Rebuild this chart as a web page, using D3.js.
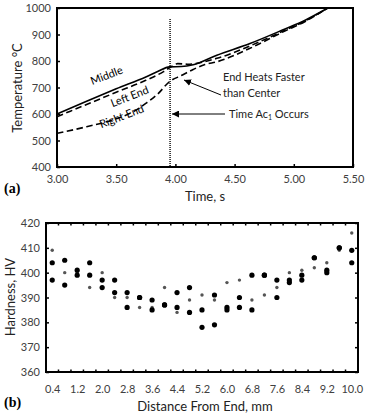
<!DOCTYPE html>
<html><head><meta charset="utf-8">
<script src="https://cdn.jsdelivr.net/npm/d3@7"></script>
<style>
body{margin:0;background:#fff;}
svg text{font-family:Lato,"Open Sans",sans-serif;}
</style></head>
<body><svg id="c" width="367" height="416"></svg>
<script>
// ---------- Chart (a) data ----------
const timeTicks = [3.00, 3.50, 4.00, 4.50, 5.00, 5.50];
const tempTicks = [400, 500, 600, 700, 800, 900, 1000];
const middleT = [3.00, 3.25, 3.50, 3.75, 3.85, 3.95, 4.05, 4.15, 4.35, 4.63, 4.91, 5.10, 5.28];
const middleV = [600, 648, 695, 740, 760, 778, 779, 786, 822, 866, 918, 955, 998];
const leftT = [3.00, 3.25, 3.50, 3.75, 3.90, 3.97, 4.02, 4.10, 4.35, 4.63, 4.91, 5.10, 5.28];
const leftV = [590, 636, 682, 727, 760, 780, 790, 788, 810, 857, 913, 952, 998];
const rightT = [3.00, 3.25, 3.50, 3.65, 3.75, 3.85, 3.95, 4.05, 4.15, 4.25, 4.35, 4.63, 4.91, 5.10, 5.28];
const rightV = [527, 552, 582, 610, 640, 675, 722, 745, 768, 787, 797, 848, 910, 950, 998];
const ac1Time = 3.955;

// ---------- Chart (b) data ----------
const distances = ["0.4","0.8","1.2","1.6","2.0","2.4","2.8","3.2","3.6","4.0","4.4","4.8","5.2","5.6","6.0","6.4","6.8","7.2","7.6","8.0","8.4","8.8","9.2","9.6","10.0"];
const distLabels = ["0.4","1.2","2.0","2.8","3.6","4.4","5.2","6.0","6.8","7.6","8.4","9.2","10.0"];
const hvTicks = [360, 370, 380, 390, 400, 410, 420];
const hardA = [404, 405, 401, 404, 397, 397, 392, 390, 389, 387, 392, 394, 385, 391, 386, 390, 399, 399, 397, 397, 399, 406, 401, 410, 409];
const hardB = [397, 395, 399, 399, 394, 392, 386, 390, 385, 387, 386, 384, 378, 379, 385, 386, 385, 399, 390, 396, 397, 406, 400, 410, 404];
const hardC = [409, 400, 400, 394, 400, 390, 390, 386, 386, 394, 384, 389, 391, 389, 396, 397, 389, 391, 394, 400, 401, 402, 404, 409, 416];

const svg = d3.select("#c");
const tickCol = "#404040";

// ===== Chart (a) =====
const xa = d3.scaleLinear().domain([3.0, 5.5]).range([57, 353]);
const ya = d3.scaleLinear().domain([400, 1000]).range([167, 8]);
const ga = svg.append("g");

ga.append("g").attr("transform","translate(0,167)")
  .call(d3.axisBottom(xa).tickValues(timeTicks).tickFormat(d3.format(".2f")).tickSizeInner(-3).tickSizeOuter(0).tickPadding(8))
  .call(g=>{g.select(".domain").remove(); g.selectAll("line").attr("stroke","#000").attr("stroke-width",1.5);
    g.selectAll("text").attr("font-size",11).attr("fill",tickCol).attr("font-family","Lato,sans-serif");});
ga.append("g").attr("transform","translate(57,0)")
  .call(d3.axisLeft(ya).tickValues(tempTicks).tickFormat(d3.format("d")).tickSizeInner(-3).tickSizeOuter(0).tickPadding(6))
  .call(g=>{g.select(".domain").remove(); g.selectAll("line").attr("stroke","#000").attr("stroke-width",1.5);
    g.selectAll("text").attr("font-size",11).attr("fill",tickCol).attr("font-family","Lato,sans-serif");});

// series
const lineA = d3.line().x(d=>xa(d[0])).y(d=>ya(d[1])).curve(d3.curveMonotoneX);
ga.append("path").datum(d3.zip(leftT,leftV)).attr("d",lineA).attr("fill","none").attr("stroke","#000").attr("stroke-width",1.6).attr("stroke-dasharray","6.5,3.5");
ga.append("path").datum(d3.zip(rightT,rightV)).attr("d",lineA).attr("fill","none").attr("stroke","#000").attr("stroke-width",1.6).attr("stroke-dasharray","6.5,3.5");
ga.append("path").datum(d3.zip(middleT,middleV)).attr("d",lineA).attr("fill","none").attr("stroke","#000").attr("stroke-width",1.6);

// Ac1 dotted line
ga.append("line").attr("x1",xa(ac1Time)).attr("x2",xa(ac1Time)).attr("y1",19).attr("y2",167)
  .attr("stroke","#000").attr("stroke-width",1.4).attr("stroke-dasharray","1,1");

// frame
ga.append("rect").attr("x",57).attr("y",8).attr("width",296).attr("height",159).attr("fill","none").attr("stroke","#000").attr("stroke-width",2);

// labels on curves
const lab = (x,y,t)=>ga.append("text").attr("transform",`translate(${x},${y}) rotate(-21)`).attr("text-anchor","middle").attr("font-size",11).attr("fill","#000").text(t);
lab(108,79,"Middle");
lab(131,100,"Left End");
lab(123,120,"Right End");

// annotations
svg.append("defs").append("marker").attr("id","ah").attr("viewBox","0 0 10 10").attr("refX",10).attr("refY",5)
  .attr("markerWidth",7).attr("markerHeight",7).attr("orient","auto-start-reverse").attr("markerUnits","userSpaceOnUse")
  .append("path").attr("d","M0,0 L10,5 L0,10 z").attr("fill","#000");
ga.append("line").attr("x1",221).attr("y1",95).attr("x2",184).attr("y2",80).attr("stroke","#000").attr("stroke-width",1).attr("marker-end","url(#ah)");
ga.append("line").attr("x1",225).attr("y1",114).attr("x2",172).attr("y2",114).attr("stroke","#000").attr("stroke-width",1).attr("marker-end","url(#ah)");
ga.append("text").attr("x",223).attr("y",81).attr("font-size",11).attr("fill","#222").text("End Heats Faster");
ga.append("text").attr("x",223).attr("y",97).attr("font-size",11).attr("fill","#222").text("than Center");
const t3 = ga.append("text").attr("x",229).attr("y",118).attr("font-size",11).attr("fill","#222");
t3.append("tspan").text("Time Ac");
t3.append("tspan").attr("font-size",7).attr("dy",2).text("1");
t3.append("tspan").attr("dy",-2).text(" Occurs");

ga.append("text").attr("x",205).attr("y",201).attr("text-anchor","middle").attr("font-size",13).attr("fill","#222").text("Time, s");
ga.append("text").attr("transform","translate(22,88) rotate(-90)").attr("text-anchor","middle").attr("font-size",13).attr("fill","#222").text("Temperature °C");
ga.append("text").attr("x",4).attr("y",193).attr("font-size",14).attr("font-weight","bold").attr("style","font-family:'Liberation Serif',serif").text("(a)");

// ===== Chart (b) =====
const L=46, R=358, T=223, B=372;
const xb = d3.scalePoint().domain(distances).range([L,R]).padding(0.5);
const yb = d3.scaleLinear().domain([360,420]).range([B,T]);
const gb = svg.append("g");
const step = xb.step();
const bounds = d3.range(1, distances.length).map(i=>L + i*step);

// inner ticks on all four sides
gb.selectAll(".tb").data(bounds).join("line").attr("x1",d=>d).attr("x2",d=>d).attr("y1",B).attr("y2",B-2.5).attr("stroke","#000").attr("stroke-width",1.5);
gb.selectAll(".tt").data(bounds).join("line").attr("x1",d=>d).attr("x2",d=>d).attr("y1",T).attr("y2",T+2.5).attr("stroke","#000").attr("stroke-width",1.5);
gb.append("g").attr("transform",`translate(${L},0)`)
  .call(d3.axisLeft(yb).tickValues(hvTicks).tickSizeInner(-3).tickSizeOuter(0).tickPadding(6))
  .call(g=>{g.select(".domain").remove(); g.selectAll("line").attr("stroke","#000").attr("stroke-width",1.5);
    g.selectAll("text").attr("font-size",11).attr("fill",tickCol).attr("font-family","Lato,sans-serif");});
gb.append("g").attr("transform",`translate(${R},0)`)
  .call(d3.axisRight(yb).tickValues(hvTicks).tickSizeInner(-3).tickSizeOuter(0).tickFormat(""))
  .call(g=>{g.select(".domain").remove(); g.selectAll("line").attr("stroke","#000").attr("stroke-width",1.5);});
gb.append("g").attr("transform",`translate(0,${B})`)
  .call(d3.axisBottom(xb).tickValues(distLabels).tickSize(0).tickPadding(13))
  .call(g=>{g.select(".domain").remove();
    g.selectAll("text").attr("font-size",11).attr("fill",tickCol).attr("font-family","Lato,sans-serif");});

gb.append("rect").attr("x",L).attr("y",T).attr("width",R-L).attr("height",B-T).attr("fill","none").attr("stroke","#000").attr("stroke-width",2);

const pts = (arr, r, col)=>gb.append("g").selectAll("circle").data(arr).join("circle")
  .attr("cx",(d,i)=>xb(distances[i])).attr("cy",d=>yb(d)).attr("r",r).attr("fill",col);
pts(hardC, 1.7, "#555");
pts(hardA, 2.6, "#000");
pts(hardB, 2.6, "#000");

gb.append("text").attr("x",205).attr("y",411).attr("text-anchor","middle").attr("font-size",13).attr("fill","#222").text("Distance From End, mm");
gb.append("text").attr("transform","translate(15,297) rotate(-90)").attr("text-anchor","middle").attr("font-size",13).attr("fill","#222").text("Hardness, HV");
gb.append("text").attr("x",4).attr("y",407).attr("font-size",14).attr("font-weight","bold").attr("style","font-family:'Liberation Serif',serif").text("(b)");
</script></body></html>
